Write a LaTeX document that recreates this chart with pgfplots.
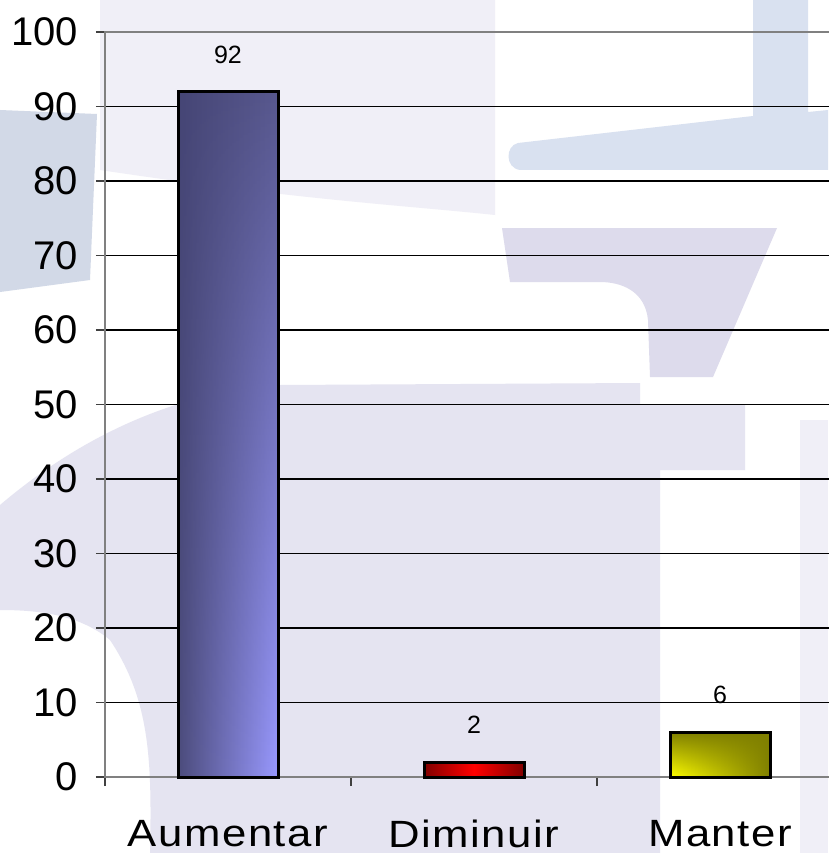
\documentclass[border=0pt]{standalone}
\usepackage{fontspec}
\setmainfont{Liberation Sans}
\newfontfamily\spaced[FakeStretch=1.15, LetterSpace=4]{Liberation Sans}
\usepackage{pgfplots}
\pgfplotsset{compat=1.18}
\usetikzlibrary{fadings}
\tikzfading[name=fadedown, top color=transparent!0, bottom color=transparent!100]
\definecolor{lavA}{RGB}{229,228,241}
\definecolor{lavB}{RGB}{240,239,247}
\definecolor{lavC}{RGB}{221,219,236}
\definecolor{bluA}{RGB}{217,225,240}
\definecolor{bluB}{RGB}{210,217,231}
\definecolor{aumL}{RGB}{76,76,124}
\definecolor{aumR}{RGB}{153,153,255}
\definecolor{aumTL}{RGB}{69,69,117}
\definecolor{aumTR}{RGB}{88,88,142}
\definecolor{dimE}{RGB}{128,0,0}
\definecolor{manO}{RGB}{128,128,0}
\definecolor{manY}{RGB}{255,255,0}
\definecolor{axgray}{RGB}{128,128,128}
\begin{document}
\begin{tikzpicture}
\useasboundingbox (0,0) rectangle (828pt,-853pt);
\begin{scope}[x=1pt,y=-1pt]
\fill[white] (0,0) rectangle (828,853);
% upper light lavender
\fill[lavB] (100,0) -- (495,0) -- (495,215) .. controls (400,205) and (300,200) .. (100,170) -- cycle;
% left bluish block
\fill[bluB] (0,110) -- (97,114) -- (90,280) -- (0,292) -- cycle;
% blue band upper right
\fill[bluA] (518,143) -- (753,116) -- (753,0) -- (808,0) -- (808,112) -- (828,110) -- (828,170) -- (520,170) .. controls (505,168) and (505,146) .. cycle;
% purple trapezoid
\fill[lavC] (502,228) -- (777,228) -- (713,377) -- (650,377) -- (648,320) .. controls (645,290) and (620,282) .. (600,282) -- (510,282) -- cycle;
% lower lavender
\fill[lavA] (0,505) .. controls (100,420) and (200,390) .. (280,385) -- (640,383) -- (640,405) -- (745,405) -- (745,470) -- (660,470) -- (660,853) -- (150,853) .. controls (152,760) and (150,700) .. (110,640) .. controls (80,615) and (40,610) .. (0,610) -- cycle;
\fill[lavB] (800,420) -- (828,420) -- (828,853) -- (800,853) -- cycle;
\end{scope}
\begin{axis}[
  at={(105pt,-777pt)}, anchor=south west,
  scale only axis, width=738pt, height=745pt,
  xmin=-0.5, xmax=2.5, ymin=0, ymax=100,
  clip=false,
  /pgf/number format/assume math mode=true,
  ytick={0,10,...,100},
  ymajorgrids, grid style={black, line width=1.1pt},
  xtick={-0.5,0.5,1.5}, xticklabels={},
  extra x ticks={0,1,2},
  extra x tick labels={Aumentar,Diminuir,Manter},
  extra x tick style={major tick length=0pt, tick style={draw=none}},
  xticklabel style={font=\spaced\fontsize{38}{44}\selectfont, anchor=north, inner sep=0pt, yshift=-43pt},
  yticklabel style={font=\fontsize{40}{48}\selectfont, anchor=east, inner sep=0pt, xshift=-18pt},
  tick align=outside, major tick length=9pt, tick pos=left,
  tick style={draw=black!75, line width=1.3pt},
  axis line style={draw=axgray, line width=2.5pt},
  every node near coord/.append style={font=\fontsize{25}{30}\selectfont, anchor=center, yshift=37pt, text=black},
]
\addplot[ybar, bar width=100pt, bar shift=0pt, draw=none, left color=aumL, right color=aumR] coordinates {(0,92)};
\addplot[ybar, bar width=100pt, bar shift=0pt, draw=none, left color=aumTL, right color=aumTR, path fading=fadedown] coordinates {(0,92)};
\addplot[ybar, bar width=100pt, bar shift=0pt, draw=black, line width=3pt, fill=none, nodes near coords] coordinates {(0,92)};
\addplot[ybar, bar width=100pt, bar shift=0pt, draw=black, line width=3pt, left color=dimE, right color=dimE, middle color=red, nodes near coords] coordinates {(1,2)};
\addplot[ybar, bar width=100pt, bar shift=0pt, draw=none, left color=manY, right color=manO] coordinates {(2,6)};
\addplot[ybar, bar width=100pt, bar shift=0pt, draw=none, fill=manO, path fading=fadedown] coordinates {(2,6)};
\addplot[ybar, bar width=100pt, bar shift=0pt, draw=black, line width=3pt, fill=none, nodes near coords] coordinates {(2,6)};
\end{axis}
\end{tikzpicture}
\end{document}
